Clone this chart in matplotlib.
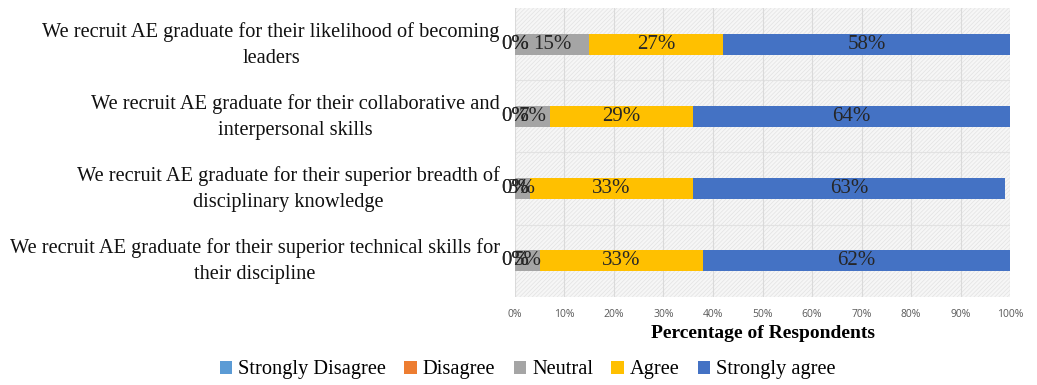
import matplotlib.pyplot as plt
import matplotlib.transforms as mtransforms
from matplotlib.patches import Rectangle
from matplotlib.ticker import PercentFormatter

statements = [
    'We recruit AE graduate for their likelihood of becoming\nleaders',
    'We recruit AE graduate for their collaborative and\ninterpersonal skills',
    'We recruit AE graduate for their superior breadth of\ndisciplinary knowledge',
    'We recruit AE graduate for their superior technical skills for\ntheir discipline',
]
responses = ['Strongly Disagree', 'Disagree', 'Neutral', 'Agree', 'Strongly agree']
strongly_disagree = [0, 0, 0, 0]
disagree = [0, 0, 0, 0]
neutral = [15, 7, 3, 5]
agree = [27, 29, 33, 33]
strongly_agree = [58, 64, 63, 62]

colors = ['#5B9BD5', '#ED7D31', '#A5A5A5', '#FFC000', '#4472C4']
series = [strongly_disagree, disagree, neutral, agree, strongly_agree]

plt.rcParams['hatch.linewidth'] = 0.5
serif = 'Liberation Serif'

fig = plt.figure(figsize=(10.37, 3.85), dpi=100)
ax = fig.add_axes([0.4966, 0.2286, 0.4774, 0.7506])

# hatched plot background
ax.set_facecolor('#f6f6f6')
ax.add_patch(Rectangle((0, 0), 1, 1, transform=ax.transAxes, facecolor='none',
                       edgecolor='#e2e2e2', hatch='////////', linewidth=0, zorder=0))

ypos = list(range(len(statements)))
left = [0] * len(statements)
for name, vals, col in zip(responses, series, colors):
    bars = ax.barh(ypos, vals, left=left, height=0.29, color=col, label=name, zorder=2)
    for b, v in zip(bars, vals):
        ax.text(b.get_x() + b.get_width() / 2, b.get_y() + b.get_height() / 2,
                '{}%'.format(v), ha='center', va='center', fontsize=15,
                family=serif, color='#262626', zorder=3)
    left = [l + v for l, v in zip(left, vals)]

ax.set_xlim(0, 100)
ax.set_ylim(len(statements) - 0.5, -0.5)
ax.set_xticks(range(0, 101, 10))
ax.xaxis.set_major_formatter(PercentFormatter(decimals=0))
ax.set_yticks(ypos)
ax.set_yticklabels(statements, family=serif, fontsize=14.7, color='#111111',
                   multialignment='center', linespacing=1.5)
ax.tick_params(axis='x', length=0, labelsize=7.5, labelcolor='#595959', pad=9)
ax.tick_params(axis='y', length=0, pad=11)
for t in ax.get_xticklabels():
    t.set_family('Open Sans')
# nudge the category labels up a little
shift = mtransforms.ScaledTranslation(0, 4 / 72, fig.dpi_scale_trans)
for t in ax.get_yticklabels():
    t.set_transform(t.get_transform() + shift)

ax.grid(axis='x', color='#dadada', linewidth=0.8, zorder=1)
for yb in [0.5, 1.5, 2.5]:
    ax.axhline(yb, color='#e2e2e2', linewidth=0.8, zorder=1)
for s in ax.spines.values():
    s.set_visible(False)

ax.set_xlabel('Percentage of Respondents', family=serif, fontsize=14,
              fontweight='bold', labelpad=3)

fig.legend(loc='lower center', bbox_to_anchor=(0.509, -0.033), ncol=5, frameon=False,
           prop={'family': serif, 'size': 14.7}, handlelength=0.6, handleheight=0.6,
           handletextpad=0.3, columnspacing=0.9)

fig.savefig('out.png', dpi=100)
